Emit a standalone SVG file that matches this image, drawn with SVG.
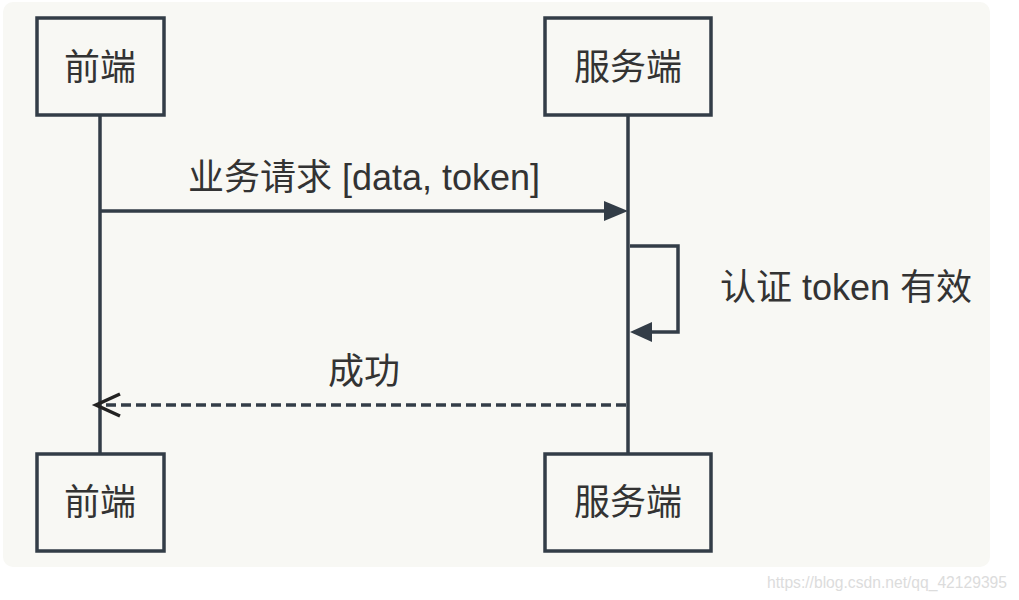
<svg xmlns="http://www.w3.org/2000/svg" width="1019" height="600" viewBox="0 0 1019 600">
<style>
.box{fill:#f8f8f4;stroke:#333d47;stroke-width:3.5}
.life{stroke:#333d47;stroke-width:3.5;fill:none}
.t{font-family:"Liberation Sans","Noto Sans CJK SC",sans-serif;font-size:36px;fill:#333}
.c{text-anchor:middle}
</style>
<rect x="0" y="0" width="1019" height="600" fill="#fff"/>
<rect x="3" y="2" width="987" height="565" rx="10" fill="#f8f8f4"/>
<g id="connectors">
<line class="life" x1="100" y1="115" x2="100" y2="453"/>
<line class="life" x1="628" y1="115" x2="628" y2="453"/>
<path d="M100,211 H604" class="life"/>
<path d="M604,201 L628,211 L604,221 z" fill="#333d47"/>
<path d="M630,246 H678 V332 H652" class="life"/>
<path d="M652,322 L630,332 L652,342 z" fill="#333d47"/>
<path d="M626,405 H96" class="life" stroke-dasharray="10,5"/>
<path d="M120,394 L96,405 L120,416" fill="none" stroke="#222" stroke-width="3.5"/>
<text class="t c" x="364" y="190">业务请求 [data, token]</text>
<text class="t" x="720" y="300">认证 token 有效</text>
<text class="t c" x="364" y="384">成功</text>
</g>
<g id="client-top"><rect class="box" x="37" y="18" width="127" height="97"/><text class="t c" x="100" y="80">前端</text></g>
<g id="server-top"><rect class="box" x="545" y="18" width="166" height="97"/><text class="t c" x="628" y="80">服务端</text></g>
<g id="client-bottom"><rect class="box" x="37" y="454" width="127" height="97"/><text class="t c" x="100" y="515">前端</text></g>
<g id="server-bottom"><rect class="box" x="545" y="454" width="166" height="97"/><text class="t c" x="628" y="515">服务端</text></g>
<text x="767" y="588" font-family="Liberation Sans, sans-serif" font-size="16" textLength="240" lengthAdjust="spacingAndGlyphs" fill="#dcdcdc">https://blog.csdn.net/qq_42129395</text>
</svg>
